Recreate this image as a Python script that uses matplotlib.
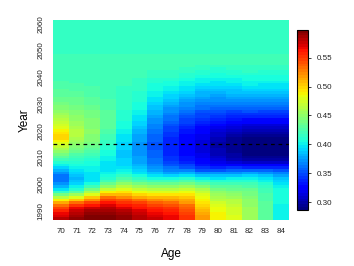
import numpy as np
import matplotlib
matplotlib.use("Agg")
import matplotlib.pyplot as plt

plt.rcParams['font.family'] = ['Liberation Sans', 'DejaVu Sans']

ages = [70, 71, 72, 73, 74, 75, 76, 77, 78, 79, 80, 81, 82, 83, 84]
years = list(range(1987, 2062))
year_ticks = [1990, 2000, 2010, 2020, 2030, 2040, 2050, 2060]
cbar_ticks = [0.30, 0.35, 0.40, 0.45, 0.50, 0.55]
jump_off_year = 2015
zlim = (0.287, 0.598)

# values per age, years 1987..2045 (rows of 10 years)
age70 = [0.58, 0.57, 0.565, 0.555, 0.545, 0.53, 0.515, 0.49, 0.465, 0.44,
         0.415, 0.395, 0.38, 0.37, 0.362, 0.36, 0.362, 0.37, 0.38, 0.39,
         0.40, 0.41, 0.42, 0.43, 0.44, 0.45, 0.46, 0.47, 0.48, 0.49,
         0.50, 0.50, 0.495, 0.49, 0.48, 0.475, 0.47, 0.465, 0.46, 0.455,
         0.45, 0.447, 0.445, 0.44, 0.437, 0.435, 0.432, 0.43, 0.428, 0.426,
         0.425, 0.424, 0.423, 0.422, 0.421, 0.42, 0.42, 0.42, 0.42]
age71 = [0.59, 0.585, 0.58, 0.575, 0.565, 0.55, 0.53, 0.505, 0.48, 0.455,
         0.43, 0.41, 0.40, 0.39, 0.385, 0.383, 0.385, 0.39, 0.395, 0.40,
         0.405, 0.41, 0.415, 0.42, 0.427, 0.433, 0.44, 0.445, 0.45, 0.455,
         0.46, 0.465, 0.465, 0.465, 0.46, 0.457, 0.455, 0.452, 0.45, 0.447,
         0.445, 0.442, 0.44, 0.437, 0.435, 0.433, 0.43, 0.428, 0.427, 0.425,
         0.424, 0.423, 0.422, 0.421, 0.42, 0.42, 0.42, 0.42, 0.42]
age72 = [0.595, 0.595, 0.59, 0.585, 0.575, 0.56, 0.545, 0.525, 0.505, 0.48,
         0.46, 0.44, 0.42, 0.405, 0.398, 0.395, 0.395, 0.397, 0.40, 0.403,
         0.405, 0.408, 0.41, 0.415, 0.42, 0.425, 0.43, 0.435, 0.44, 0.443,
         0.445, 0.447, 0.448, 0.448, 0.447, 0.446, 0.445, 0.443, 0.442, 0.44,
         0.438, 0.436, 0.434, 0.432, 0.43, 0.428, 0.427, 0.426, 0.425, 0.424,
         0.423, 0.422, 0.421, 0.42, 0.42, 0.42, 0.42, 0.42, 0.42]
age73 = [0.595, 0.595, 0.59, 0.585, 0.58, 0.57, 0.56, 0.545, 0.53, 0.51,
         0.49, 0.47, 0.45, 0.435, 0.42, 0.41, 0.405, 0.40, 0.398, 0.397,
         0.397, 0.398, 0.40, 0.402, 0.405, 0.408, 0.41, 0.413, 0.415, 0.418,
         0.42, 0.422, 0.425, 0.427, 0.428, 0.429, 0.43, 0.43, 0.43, 0.429,
         0.428, 0.427, 0.426, 0.425, 0.424, 0.423, 0.422, 0.422, 0.421, 0.42,
         0.42, 0.42, 0.42, 0.42, 0.42, 0.42, 0.42, 0.42, 0.42]
age74 = [0.59, 0.59, 0.585, 0.58, 0.57, 0.56, 0.55, 0.54, 0.525, 0.51,
         0.495, 0.48, 0.465, 0.45, 0.435, 0.425, 0.415, 0.405, 0.40, 0.395,
         0.393, 0.39, 0.39, 0.388, 0.388, 0.388, 0.39, 0.39, 0.392, 0.394,
         0.396, 0.398, 0.40, 0.402, 0.404, 0.406, 0.408, 0.41, 0.411, 0.412,
         0.413, 0.414, 0.415, 0.415, 0.416, 0.416, 0.417, 0.417, 0.418, 0.418,
         0.419, 0.419, 0.42, 0.42, 0.42, 0.42, 0.42, 0.42, 0.42]
age75 = [0.58, 0.58, 0.575, 0.57, 0.56, 0.555, 0.545, 0.53, 0.515, 0.50,
         0.485, 0.47, 0.455, 0.44, 0.425, 0.415, 0.405, 0.398, 0.39, 0.385,
         0.38, 0.378, 0.376, 0.375, 0.374, 0.373, 0.373, 0.373, 0.374, 0.375,
         0.377, 0.379, 0.381, 0.384, 0.387, 0.39, 0.393, 0.396, 0.398, 0.40,
         0.402, 0.404, 0.406, 0.408, 0.41, 0.411, 0.412, 0.413, 0.414, 0.415,
         0.416, 0.417, 0.418, 0.419, 0.42, 0.42, 0.42, 0.42, 0.42]
age76 = [0.575, 0.57, 0.565, 0.56, 0.555, 0.545, 0.535, 0.525, 0.51, 0.495,
         0.48, 0.465, 0.45, 0.435, 0.42, 0.405, 0.395, 0.385, 0.378, 0.372,
         0.367, 0.363, 0.36, 0.358, 0.357, 0.356, 0.355, 0.355, 0.355, 0.356,
         0.357, 0.358, 0.36, 0.362, 0.365, 0.368, 0.371, 0.374, 0.377, 0.38,
         0.383, 0.386, 0.389, 0.392, 0.395, 0.398, 0.40, 0.402, 0.404, 0.406,
         0.408, 0.41, 0.412, 0.414, 0.416, 0.418, 0.419, 0.42, 0.42]
age77 = [0.565, 0.565, 0.56, 0.555, 0.55, 0.54, 0.53, 0.52, 0.51, 0.495,
         0.48, 0.465, 0.45, 0.435, 0.42, 0.405, 0.39, 0.378, 0.368, 0.36,
         0.353, 0.348, 0.344, 0.342, 0.34, 0.339, 0.338, 0.338, 0.338, 0.339,
         0.34, 0.342, 0.344, 0.347, 0.35, 0.353, 0.356, 0.36, 0.363, 0.367,
         0.37, 0.374, 0.378, 0.382, 0.386, 0.39, 0.393, 0.396, 0.399, 0.402,
         0.405, 0.408, 0.411, 0.414, 0.416, 0.418, 0.419, 0.42, 0.42]
age78 = [0.55, 0.55, 0.545, 0.54, 0.535, 0.53, 0.52, 0.515, 0.505, 0.495,
         0.485, 0.47, 0.455, 0.44, 0.425, 0.41, 0.395, 0.38, 0.365, 0.355,
         0.347, 0.34, 0.335, 0.332, 0.33, 0.328, 0.327, 0.326, 0.326, 0.327,
         0.328, 0.33, 0.332, 0.335, 0.338, 0.342, 0.346, 0.35, 0.354, 0.358,
         0.362, 0.366, 0.37, 0.374, 0.378, 0.382, 0.386, 0.39, 0.394, 0.397,
         0.40, 0.403, 0.406, 0.409, 0.412, 0.415, 0.417, 0.419, 0.42]
age79 = [0.52, 0.52, 0.515, 0.51, 0.505, 0.50, 0.495, 0.49, 0.485, 0.48,
         0.47, 0.46, 0.445, 0.43, 0.415, 0.40, 0.385, 0.37, 0.355, 0.343,
         0.335, 0.328, 0.323, 0.32, 0.318, 0.316, 0.315, 0.315, 0.315, 0.316,
         0.317, 0.319, 0.322, 0.325, 0.329, 0.333, 0.337, 0.341, 0.346, 0.35,
         0.355, 0.36, 0.364, 0.368, 0.372, 0.376, 0.38, 0.384, 0.388, 0.392,
         0.396, 0.40, 0.403, 0.406, 0.409, 0.412, 0.415, 0.418, 0.42]
age80 = [0.49, 0.49, 0.488, 0.485, 0.482, 0.478, 0.472, 0.466, 0.46, 0.455,
         0.448, 0.44, 0.43, 0.42, 0.41, 0.398, 0.385, 0.37, 0.355, 0.34,
         0.328, 0.318, 0.312, 0.308, 0.305, 0.303, 0.302, 0.301, 0.301, 0.302,
         0.304, 0.307, 0.311, 0.316, 0.321, 0.326, 0.331, 0.336, 0.341, 0.346,
         0.351, 0.356, 0.361, 0.366, 0.37, 0.374, 0.378, 0.382, 0.386, 0.39,
         0.394, 0.398, 0.401, 0.404, 0.407, 0.41, 0.413, 0.416, 0.419]
age81 = [0.478, 0.478, 0.476, 0.474, 0.472, 0.47, 0.466, 0.462, 0.457, 0.45,
         0.443, 0.436, 0.428, 0.42, 0.41, 0.40, 0.388, 0.374, 0.358, 0.342,
         0.327, 0.315, 0.306, 0.30, 0.297, 0.295, 0.294, 0.293, 0.293, 0.294,
         0.296, 0.299, 0.303, 0.308, 0.314, 0.32, 0.326, 0.332, 0.338, 0.344,
         0.35, 0.356, 0.361, 0.366, 0.371, 0.376, 0.381, 0.385, 0.389, 0.393,
         0.397, 0.40, 0.403, 0.406, 0.409, 0.412, 0.415, 0.418, 0.42]
age82 = [0.455, 0.455, 0.455, 0.454, 0.453, 0.452, 0.45, 0.448, 0.445, 0.442,
         0.438, 0.433, 0.427, 0.42, 0.412, 0.402, 0.39, 0.375, 0.358, 0.34,
         0.323, 0.31, 0.301, 0.295, 0.291, 0.289, 0.288, 0.288, 0.288, 0.289,
         0.291, 0.294, 0.298, 0.303, 0.309, 0.316, 0.323, 0.33, 0.337, 0.344,
         0.351, 0.357, 0.363, 0.368, 0.373, 0.378, 0.383, 0.387, 0.391, 0.395,
         0.399, 0.402, 0.405, 0.408, 0.411, 0.414, 0.416, 0.418, 0.42]
age83 = [0.43, 0.43, 0.43, 0.43, 0.43, 0.429, 0.428, 0.427, 0.426, 0.425,
         0.423, 0.42, 0.416, 0.41, 0.403, 0.395, 0.385, 0.372, 0.356, 0.34,
         0.323, 0.31, 0.30, 0.293, 0.289, 0.287, 0.287, 0.287, 0.287, 0.288,
         0.29, 0.293, 0.297, 0.302, 0.308, 0.315, 0.322, 0.329, 0.336, 0.343,
         0.35, 0.356, 0.362, 0.367, 0.372, 0.377, 0.382, 0.386, 0.39, 0.394,
         0.398, 0.401, 0.404, 0.407, 0.41, 0.413, 0.416, 0.418, 0.42]
age84 = [0.40, 0.40, 0.40, 0.401, 0.402, 0.403, 0.404, 0.405, 0.406, 0.406,
         0.405, 0.404, 0.402, 0.398, 0.392, 0.385, 0.376, 0.365, 0.352, 0.338,
         0.323, 0.31, 0.30, 0.293, 0.289, 0.287, 0.287, 0.287, 0.287, 0.288,
         0.29, 0.293, 0.297, 0.302, 0.308, 0.315, 0.322, 0.329, 0.336, 0.343,
         0.35, 0.356, 0.362, 0.367, 0.372, 0.377, 0.382, 0.386, 0.39, 0.394,
         0.398, 0.401, 0.404, 0.407, 0.41, 0.413, 0.416, 0.418, 0.42]
# years 2046..2061, same for every age
plateau = [0.419, 0.419, 0.419, 0.418, 0.418, 0.418, 0.418, 0.418,
           0.418, 0.418, 0.418, 0.418, 0.418, 0.418, 0.418, 0.418]

cols = [age70, age71, age72, age73, age74, age75, age76, age77,
        age78, age79, age80, age81, age82, age83, age84]
z = np.array([c + plateau for c in cols]).T   # rows = years, cols = ages

fig = plt.figure(figsize=(3.54, 2.66), dpi=100)
ax = fig.add_axes([0.150, 0.173, 0.666, 0.752])
cmap = plt.get_cmap('jet', 64)
im = ax.imshow(z, cmap=cmap, vmin=zlim[0], vmax=zlim[1], origin='lower',
               aspect='auto', interpolation='nearest',
               extent=[ages[0] - 0.5, ages[-1] + 0.5, years[0] - 0.5, years[-1] + 0.5])
ax.axhline(jump_off_year, color='black', ls=(0, (3, 3)), lw=0.9)

for s in ax.spines.values():
    s.set_visible(False)
ax.set_xticks(ages)
ax.set_xticklabels([str(a) for a in ages], fontsize=5.8, color='#222222')
ax.set_yticks(year_ticks)
ax.set_yticklabels([str(y) for y in year_ticks], fontsize=5.8, rotation=90,
                   va='center', color='#222222')
ax.tick_params(length=0, pad=6)
ax.set_xlabel('Age', fontsize=8.5, labelpad=9)
ax.set_ylabel('Year', fontsize=8.5, labelpad=5)

cax = fig.add_axes([0.839, 0.211, 0.031, 0.677])
cb = fig.colorbar(im, cax=cax, ticks=cbar_ticks)
cb.ax.set_yticklabels(['%.2f' % t for t in cbar_ticks])
cb.ax.tick_params(labelsize=5.8, length=2.5, width=0.6, pad=3.5, colors='#222222')
cb.outline.set_linewidth(0.8)

fig.savefig('out.png', dpi=100)
